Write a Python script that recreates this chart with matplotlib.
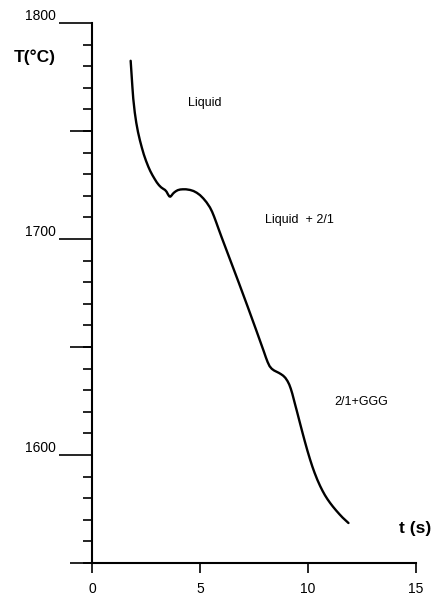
import numpy as np
import matplotlib
matplotlib.use("Agg")
import matplotlib.pyplot as plt
from matplotlib.ticker import MultipleLocator, NullFormatter

plt.rcParams['font.family'] = ['Liberation Sans', 'DejaVu Sans']

# cooling curve
t = [1.79, 1.83, 1.87, 1.91, 1.98, 2.05, 2.13, 2.22, 2.31, 2.40, 2.50, 2.61, 2.70, 2.80, 2.90,
     3.00, 3.10, 3.20, 3.30, 3.38, 3.45, 3.52, 3.58, 3.63, 3.68, 3.74, 3.80, 3.88, 3.97,
     4.08, 4.20, 4.35, 4.54, 4.70, 4.85, 5.00, 5.15, 5.30, 5.46, 5.56, 5.65, 5.75, 5.85,
     6.00, 6.20, 6.40, 6.60, 6.80, 7.00, 7.20, 7.40, 7.60, 7.80, 7.95, 8.05, 8.13, 8.22,
     8.32, 8.43, 8.55, 8.65, 8.75, 8.85, 8.95, 9.05, 9.13, 9.20, 9.27, 9.33, 9.40, 9.48,
     9.56, 9.63, 9.74, 9.85, 9.97, 10.09, 10.20, 10.30, 10.43, 10.56, 10.67, 10.78, 10.90,
     11.02, 11.15, 11.30, 11.45, 11.60, 11.74, 11.87]
T = [1782.5, 1776.5, 1770.4, 1765.0, 1758.6, 1753.8, 1749.5, 1745.6, 1742.2, 1739.1, 1736.2, 1733.4, 1731.4, 1729.5, 1727.8,
     1726.2, 1724.9, 1723.9, 1723.2, 1722.7, 1721.9, 1720.6, 1719.7, 1719.6, 1720.1, 1720.9, 1721.5, 1722.1, 1722.6,
     1722.9, 1723.0, 1723.0, 1722.7, 1722.2, 1721.4, 1720.3, 1718.8, 1717.0, 1714.6, 1712.6, 1710.4, 1707.7, 1704.9,
     1700.8, 1695.5, 1690.2, 1684.9, 1679.6, 1674.2, 1668.8, 1663.3, 1657.8, 1652.2, 1648.0, 1645.1, 1643.0, 1641.1,
     1639.9, 1639.1, 1638.5, 1638.0, 1637.4, 1636.7, 1635.7, 1634.2, 1632.6, 1630.7, 1628.4, 1626.1, 1623.4, 1620.4,
     1617.3, 1614.6, 1610.4, 1606.3, 1602.0, 1598.0, 1594.6, 1591.8, 1588.5, 1585.6, 1583.4, 1581.4, 1579.5,
     1577.8, 1576.1, 1574.3, 1572.6, 1571.0, 1569.7, 1568.5]

xticks = [0, 5, 10, 15]
yticks = [1600, 1700, 1800]
ymid = [1550, 1650, 1750]

regions = ['Liquid', 'Liquid  + 2/1', '2/1+GGG']
region_xy = [(5.2, 1763), (9.6, 1709), (12.45, 1624.5)]

fig = plt.figure(figsize=(4.38, 5.97), dpi=100)
ax = fig.add_axes([0.210, 0.057, 0.740, 0.9045])

ax.plot(t, T, color='black', lw=1.7, solid_capstyle='round', solid_joinstyle='round')

ax.set_xlim(0, 15)
ax.set_ylim(1550, 1800)
ax.spines['top'].set_visible(False)
ax.spines['right'].set_visible(False)
ax.spines['left'].set_linewidth(1.5)
ax.spines['bottom'].set_linewidth(1.5)

ax.set_xticks(xticks)
ax.set_xticklabels([str(v) for v in xticks], fontsize=10)
ax.tick_params(axis='x', direction='out', length=7, width=1.2, pad=7)

ax.set_yticks(yticks)
ax.set_yticklabels([str(v) for v in yticks], fontsize=10)
ax.yaxis.set_minor_locator(MultipleLocator(10))
ax.yaxis.set_minor_formatter(NullFormatter())
ax.tick_params(axis='y', which='major', direction='out', length=24, width=1.2, pad=2)
ax.tick_params(axis='y', which='minor', direction='out', length=6.5, width=1.2)
for lab in ax.get_yticklabels():
    lab.set_verticalalignment('bottom')

# medium ticks at the half hundreds
sec = ax.secondary_yaxis('left')
sec.spines['left'].set_visible(False)
sec.set_yticks(ymid)
sec.set_yticklabels(['' for v in ymid])
sec.tick_params(axis='y', direction='out', length=16, width=1.2)

for txt, (x, y) in zip(regions, region_xy):
    ax.text(x, y, txt, ha='center', va='center', fontsize=9)

ax.text(14.95, 1566, 't (s)', ha='center', va='center', fontsize=12.5,
        fontweight='bold', clip_on=False)
ax.text(-2.64, 1784, 'T(°C)', ha='center', va='center', fontsize=12.5,
        fontweight='bold', clip_on=False)

fig.savefig('out.png', dpi=100)
